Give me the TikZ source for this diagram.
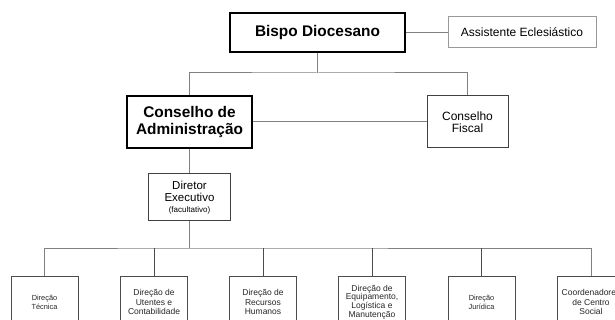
\documentclass[tikz,border=0pt]{standalone}
\usepackage{fontspec}
\setmainfont{Liberation Sans}
\begin{document}
\begin{tikzpicture}[x=1pt,y=-1pt,
  conn/.style={draw=black!50, line width=1pt},
  vconn/.style={draw=black!70, line width=1pt},
  mainbox/.style={draw=black, line width=1.3pt, fill=white, align=center, inner sep=0pt,
    font=\fontsize{15.4}{17}\selectfont\bfseries},
  midbox/.style={draw=black!75, line width=1pt, fill=white, align=center, inner sep=0pt,
    font=\fontsize{12}{12.5}\selectfont},
  assistbox/.style={draw=black!40, line width=1pt, fill=white, align=center, inner sep=0pt,
    font=\fontsize{12}{12.5}\selectfont},
  subbox/.style={draw=black!70, line width=1pt, fill=white, align=center, inner sep=0pt,
    minimum width=67pt, minimum height=52pt, text=black!85,
    font=\fontsize{8.5}{9.2}\selectfont},
  smalltext/.style={font=\fontsize{7.4}{9.2}\selectfont}
]
\useasboundingbox (0,0) rectangle (615,320);
\clip (0,0) rectangle (615,320);

% top level
\node[mainbox, minimum width=175pt, minimum height=39pt] (bispo) at (317.5,32.5) {Bispo Diocesano};
\node[assistbox, minimum width=148pt, minimum height=31pt] (assist) at (522,32.5) {Assistente Eclesiástico};

% second level
\node[mainbox, minimum width=125pt, minimum height=52pt] (cadm) at (189.5,122) {Conselho de\\Administração};
\node[midbox, minimum width=81pt, minimum height=52pt] (fiscal) at (467.5,122) {Conselho\\Fiscal};

% director
\node[midbox, minimum width=82pt, minimum height=47pt, font=\fontsize{11.5}{11.7}\selectfont] (diretor) at (189.5,197.5)
  {Diretor\\Executivo\\[-1pt]{\fontsize{8}{8}\selectfont (facultativo)}};

% bottom row
\node[subbox, smalltext] (b1) at (44.5,302) {Direção\\Técnica};
\node[subbox] (b2) at (154,302) {Direção de\\Utentes e\\Contabilidade};
\node[subbox] (b3) at (263,302) {Direção de\\Recursos\\Humanos};
\node[subbox, font=\fontsize{8.5}{8.7}\selectfont] (b4) at (372,302) {Direção de\\Equipamento,\\Logística e\\Manutenção};
\node[subbox, smalltext] (b5) at (481.5,302) {Direção\\Jurídica};
\node[subbox] (b6) at (591,302) {Coordenadores\\de Centro\\Social};

% junctions
\coordinate (j1) at (317.5,73);
\coordinate (j2) at (189.5,248);

% connectors
\draw[conn] (bispo.east) -- (assist.west);
\draw[conn] (bispo.south) -- (j1);
\draw[conn] (cadm.north) |- (j1) -| (fiscal.north);
\draw[conn] (cadm.east) -- (fiscal.west);
\draw[conn] (cadm.south) -- (diretor.north);
\draw[conn] (diretor.south) -- (j2);
\draw[conn] (b1.north) |- (j2) -| (b6.north);
\foreach \b in {b2,b3,b4,b5} {
  \draw[vconn] (\b.north) -- (\b.north |- j2);
}
\end{tikzpicture}
\end{document}
